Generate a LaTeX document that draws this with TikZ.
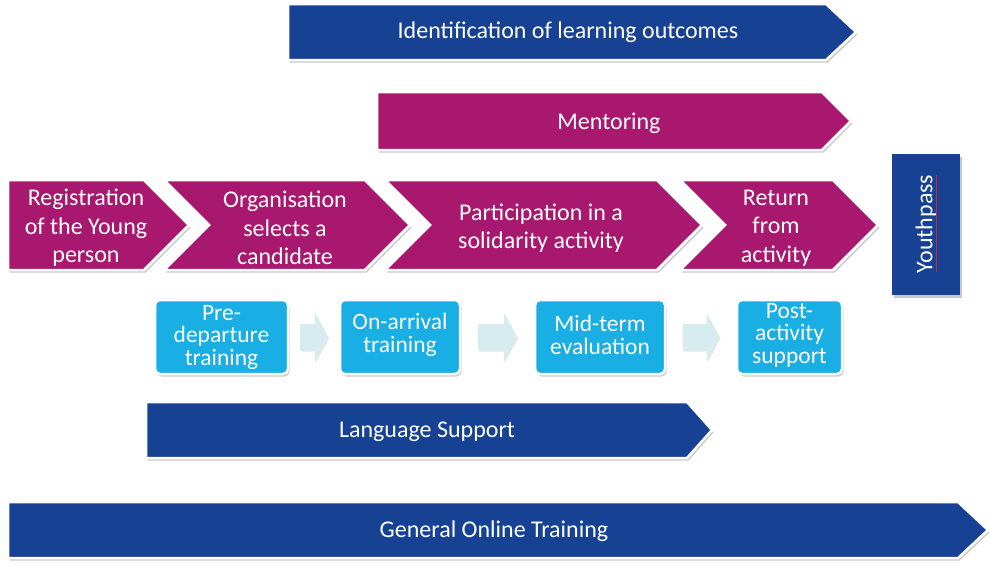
\documentclass[tikz,border=0pt]{standalone}
\usepackage{fontspec}
\setmainfont{Carlito}
\usetikzlibrary{shadows,calc}
\definecolor{magen}{RGB}{168,24,110}
\definecolor{navy}{RGB}{23,66,148}
\definecolor{sky}{RGB}{25,174,228}
\definecolor{pale}{RGB}{214,236,238}
\definecolor{spell}{RGB}{220,30,40}
\tikzset{
  shad/.style={drop shadow={shadow xshift=1.5pt,shadow yshift=-2.5pt,opacity=0.35,fill=black!60}},
  chev/.style={fill=magen,draw=white,line width=2.5pt,line join=miter,shad},
  band/.style={fill=navy,draw=white,line width=2.5pt,shad},
  bandm/.style={fill=magen,draw=white,line width=2.5pt,shad},
  lbl/.style={text=white,align=center,font=\fontsize{24}{28.5}\selectfont},
  boxlbl/.style={text=white,align=center,font=\fontsize{23.5}{22.5}\selectfont},
  skybox/.style={fill=sky,draw=white,line width=2.5pt,rounded corners=5pt,shad,inner sep=0pt},
  paleArrow/.style={fill=pale,draw=none,drop shadow={shadow xshift=1pt,shadow yshift=-1.5pt,opacity=0.2,fill=black!50}}
}
\begin{document}
\begin{tikzpicture}[x=1pt,y=-1pt]
\useasboundingbox (0,0) rectangle (990,565);
% top bands
\path[band] (288,4) -- (826,4) -- (856,32) -- (826,60) -- (288,60) -- cycle;
\node[lbl] (ident) at (568,32) {Identification of learning outcomes};
\path[bandm] (377,92) -- (822,92) -- (851,121) -- (822,150) -- (377,150) -- cycle;
\node[lbl] (ment) at (609,123.5) {Mentoring};
% chevrons
\path[chev] (8,180) -- (144,180) -- (189,225) -- (144,270) -- (8,270) -- cycle;
\path[chev] (164,180) -- (365,180) -- (410,225) -- (365,270) -- (164,270) -- (209,225) -- cycle;
\path[chev] (385,180) -- (657,180) -- (702,225) -- (657,270) -- (385,270) -- (430,225) -- cycle;
\path[chev] (680,180) -- (833,180) -- (878,225) -- (833,270) -- (680,270) -- (725,225) -- cycle;
\node[lbl] (reg) at (86,228) {Registration\\of the Young\\person};
\node[lbl] (org) at (285,228) {Organisation\\selects a\\candidate};
\node[lbl] (part) at (541,228) {Participation in a\\solidarity activity};
\node[lbl] (ret) at (776,228) {Return\\from\\activity};
% Youthpass
\path[fill=navy,shad] (892,154) rectangle (960,295);
\node[lbl,rotate=90] (yp) at (926,224) {Youthpass};
\draw[spell,line width=1.2pt] (936.5,175) -- (936.5,272);
% sky boxes
\node[skybox,minimum width=133pt,minimum height=74pt] (pre) at (221.5,337) {};
\node[boxlbl] at (pre.center) {Pre-\\departure\\training};
\node[skybox,minimum width=120pt,minimum height=74pt] (arr) at (400,337) {};
\node[boxlbl] at ([yshift=2pt]arr.center) {On-arrival\\training};
\node[skybox,minimum width=130pt,minimum height=74pt] (mid) at (600,337) {};
\node[boxlbl] at ([yshift=2pt]mid.center) {Mid-term\\evaluation};
\node[skybox,minimum width=105pt,minimum height=74pt] (post) at (789.5,337) {};
\node[boxlbl] at ([yshift=2pt]post.center) {Post-\\activity\\support};
% pale arrows between boxes
\foreach \a/\b/\w in {pre/arr/28,arr/mid/39,mid/post/37}{
  \path let \p1=($(\a.east)!0.5!(\b.west)$) in
    [paleArrow] (\x1-\w/2,\y1-13) -- (\x1+\w/2-13,\y1-13) -- (\x1+\w/2-13,\y1-24)
    -- (\x1+\w/2,\y1) -- (\x1+\w/2-13,\y1+24) -- (\x1+\w/2-13,\y1+13)
    -- (\x1-\w/2,\y1+13) -- cycle;
}
% lower bands
\path[band] (146,402) -- (687,402) -- (712,430) -- (687,458) -- (146,458) -- cycle;
\node[lbl] (lang) at (427,432) {Language Support};
\path[band] (8,502) -- (958,502) -- (988,530) -- (958,558) -- (8,558) -- cycle;
\node[lbl] (gen) at (494,531) {General Online Training};
\end{tikzpicture}
\end{document}
